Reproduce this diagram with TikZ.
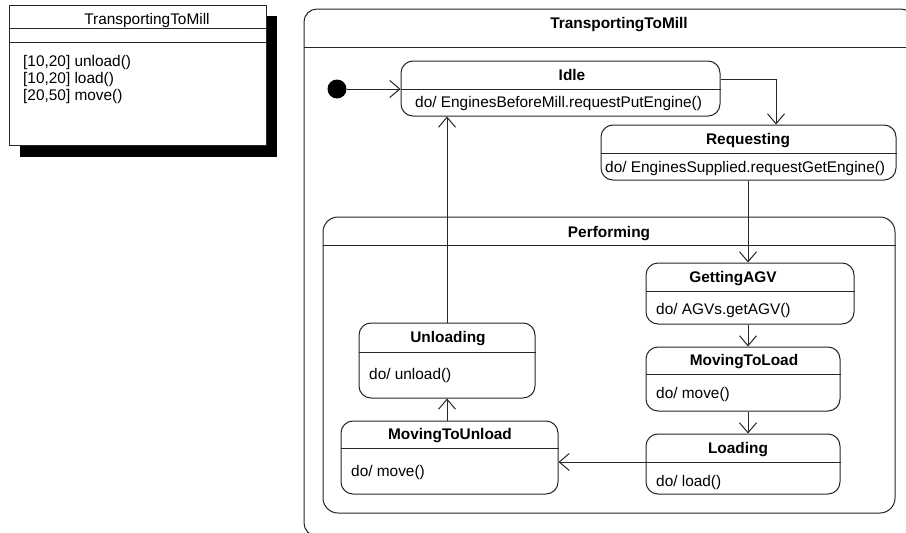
\documentclass[tikz,border=0pt]{standalone}
\usepackage{fontspec}
\setmainfont{Liberation Sans}
\usetikzlibrary{arrows.meta,fit}
\definecolor{linec}{gray}{0.15}
\tikzset{
  statebox/.style={draw=linec, line width=1pt, rounded corners=12pt, inner sep=0pt, fill=white},
  classbox/.style={draw=linec, line width=1pt, inner sep=0pt, fill=white},
  trans/.style={draw=linec, line width=1pt, -{Straight Barb[length=10pt,width=17pt,line width=1pt]}},
  sepline/.style={draw=linec, line width=1pt},
  ttl/.style={font=\fontsize{15.4}{18}\selectfont\bfseries, anchor=base, inner sep=0pt},
  ctl/.style={font=\fontsize{15.4}{18}\selectfont, anchor=base, inner sep=0pt},
  txt/.style={font=\fontsize{15.4}{18}\selectfont, anchor=base west, inner sep=0pt},
}
\begin{document}
\begin{tikzpicture}[x=1pt,y=-1pt]
\useasboundingbox (0,0) rectangle (906,533);
\clip (0,0) rectangle (906,533);

% ---- class box with shadow
\fill[black] (20,16) rectangle (277,157);
\node[classbox, fit={(9,5)(266,145)}] (cls) {};
\draw[sepline] (cls.west |- 0,28) -- (cls.east |- 0,28);
\draw[sepline] (cls.west |- 0,42) -- (cls.east |- 0,42);
\node[ctl] (clsname) at (147,24.5) {TransportingToMill};
\node[txt] (op1) at (23,66) {[10,20] unload()};
\node[txt] (op2) at (23,83) {[10,20] load()};
\node[txt] (op3) at (23,100.5) {[20,50] move()};

% ---- outer composite state (runs past the right and bottom edges)
\node[statebox, rounded corners=13pt, fit={(304,9)(914,536)}] (outer) {};
\draw[sepline] (outer.west |- 0,47) -- (outer.east |- 0,47);
\node[ttl] (outert) at (619,28.5) {TransportingToMill};

% ---- Performing composite state
\node[statebox, rounded corners=15pt, fit={(323,217)(895,513)}] (perf) {};
\draw[sepline] (perf.west |- 0,245) -- (perf.east |- 0,245);
\node[ttl] (perft) at (609,237.5) {Performing};

% ---- initial pseudostate
\node[circle, fill=black, minimum size=19pt, inner sep=0pt] (init) at (337,89) {};

% ---- Idle
\node[statebox, fit={(401,61)(720,116)}] (idle) {};
\draw[sepline] (idle.west |- 0,89) -- (idle.east |- 0,89);
\node[ttl] (idlet) at (572,80.5) {Idle};
\node[txt] (idled) at (415,107) {do/ EnginesBeforeMill.requestPutEngine()};

% ---- Requesting
\node[statebox, fit={(601,125)(896,180)}] (req) {};
\draw[sepline] (req.west |- 0,153) -- (req.east |- 0,153);
\node[ttl] (reqt) at (748,144.5) {Requesting};
\node[txt] (reqd) at (605,172) {do/ EnginesSupplied.requestGetEngine()};

% ---- GettingAGV
\node[statebox, fit={(646,263)(854,324)}] (get) {};
\draw[sepline] (get.west |- 0,291) -- (get.east |- 0,291);
\node[ttl] (gett) at (733,282.5) {GettingAGV};
\node[txt] (getd) at (656,314) {do/ AGVs.getAGV()};

% ---- MovingToLoad
\node[statebox, fit={(646,347)(840,411)}] (mtl) {};
\draw[sepline] (mtl.west |- 0,374) -- (mtl.east |- 0,374);
\node[ttl] (mtlt) at (744,365.5) {MovingToLoad};
\node[txt] (mtld) at (656,398) {do/ move()};

% ---- Loading
\node[statebox, fit={(646,434)(840,494)}] (load) {};
\draw[sepline] (load.west |- 0,462) -- (load.east |- 0,462);
\node[ttl] (loadt) at (738,453.5) {Loading};
\node[txt] (loadd) at (656,486) {do/ load()};

% ---- Unloading
\node[statebox, fit={(359,323)(535,398)}] (unl) {};
\draw[sepline] (unl.west |- 0,352) -- (unl.east |- 0,352);
\node[ttl] (unlt) at (448,342.5) {Unloading};
\node[txt] (unld) at (369,379) {do/ unload()};

% ---- MovingToUnload
\node[statebox, fit={(341,421)(558,494)}] (mtu) {};
\draw[sepline] (mtu.west |- 0,448) -- (mtu.east |- 0,448);
\node[ttl] (mtut) at (450,439.5) {MovingToUnload};
\node[txt] (mtud) at (351,476) {do/ move()};

% ---- transitions
\coordinate (colA) at (776,0);
\coordinate (colB) at (748,0);
\draw[trans] (init) -- (idle.west |- init);
\draw[trans] (idle.east |- 0,79) -| (req.north -| colA);
\draw[trans] (req.south -| colB) -- (get.north -| colB);
\draw[trans] (get.south -| colB) -- (mtl.north -| colB);
\draw[trans] (mtl.south -| colB) -- (load.north -| colB);
\draw[trans] (load.west |- 0,462) -- (mtu.east |- 0,462);
\draw[trans] (mtu.north -| unl.south) -- (unl.south);
\draw[trans] (unl.north) -- (unl.north |- idle.south);
\end{tikzpicture}
\end{document}
